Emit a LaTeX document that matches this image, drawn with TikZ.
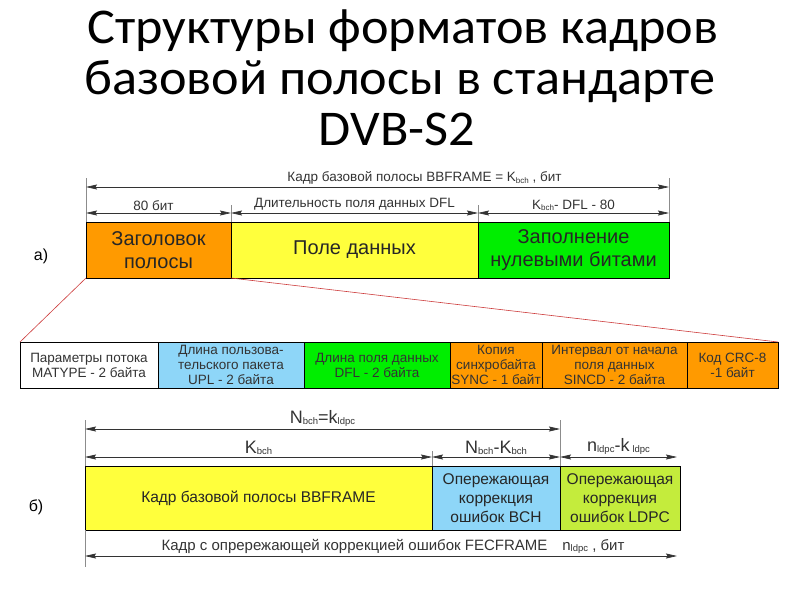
\documentclass[tikz,border=0pt]{standalone}
\usepackage{fontspec}
\setmainfont{Liberation Sans}
\newfontfamily\ttlfont{Carlito}
\usepackage{xcolor}
\usetikzlibrary{positioning,arrows.meta,calc}

\definecolor{bforange}{HTML}{FF9A00}
\definecolor{bfyellow}{HTML}{FFFF3C}
\definecolor{bfgreen}{HTML}{00EE00}
\definecolor{bfblue}{HTML}{8ED6F8}
\definecolor{bflime}{HTML}{C4EC3C}
\definecolor{bfred}{HTML}{CC3A3A}

% small lowered index, as in the drawing
\newcommand{\lowidx}[2][8]{\raisebox{-1.5pt}{\fontsize{#1}{#1}\selectfont #2}}

\begin{document}
\begin{tikzpicture}[
  x=1pt, y=-1pt, >={Stealth[length=11pt,width=5pt,inset=1.5pt]},
  ttl/.style={anchor=base,inner sep=0pt,font=\ttlfont\fontsize{50}{50}\selectfont},
  blk/.style={draw,line width=0.9pt,outer sep=0pt,inner sep=1pt,align=center,text=black!85},
  ext/.style={draw=black!45,line width=0.7pt},
  dim/.style={<->,line width=0.7pt,black!80},
  lbl/.style={above,inner sep=2pt,text=black!80}
]
\useasboundingbox (0,0) rectangle (800,600);

% title
\node[ttl] (ttl1) at (403,43) {\scalebox{1.045}[1.0]{Структуры форматов кадров}};
\node[ttl] (ttl2) at (400,94) {\scalebox{1.045}[1.0]{базовой полосы в стандарте}};
\node[ttl] (ttl3) at (397,145) {\scalebox{1.045}[1.0]{DVB-S2}};

% a) baseband frame
\node[font=\fontsize{16}{16}\selectfont] (la) at (41,256) {а)};
\node[blk,fill=bforange,minimum width=145pt,minimum height=56pt,anchor=north west,
  font=\fontsize{20}{23}\selectfont] (hdr) at (86,222) {Заголовок\\полосы};
\node[blk,fill=bfyellow,minimum width=247pt,minimum height=56pt,right=0pt of hdr,
  font=\fontsize{20}{23}\selectfont] (data) {Поле данных};
\node[blk,fill=bfgreen,minimum width=191pt,minimum height=56pt,right=0pt of data,
  font=\fontsize{20}{23}\selectfont] (pad) {Заполнение\\нулевыми битами};

\draw[ext] (hdr.north west) -- ++(0,-44);
\draw[ext] (pad.north east) -- ++(0,-44);
\draw[ext] (hdr.north east) -- ++(0,-17);
\draw[ext] (data.north east) -- ++(0,-17);

\coordinate (ta) at ([yshift=35pt]hdr.north west);
\coordinate (tb) at ([yshift=35pt]pad.north east);
\coordinate (ra) at ([yshift=9pt]hdr.north west);
\coordinate (rb) at ([yshift=9pt]hdr.north east);
\coordinate (rc) at ([yshift=9pt]data.north east);
\coordinate (rd) at ([yshift=9pt]pad.north east);
\begin{scope}[font=\fontsize{13.5}{14}\selectfont]
\draw[dim] (ta) -- node[lbl,xshift=47pt]{Кадр базовой полосы BBFRAME = K\lowidx{bch} , бит} (tb);
\draw[dim] (ra) -- node[lbl,xshift=-5pt]{80 бит} (rb);
\draw[dim] (rb) -- node[lbl]{Длительность поля данных DFL} (rc);
\draw[dim] (rc) -- node[lbl]{K\lowidx{bch}- DFL - 80} (rd);
\end{scope}

% header fields
\begin{scope}[every node/.style={blk,minimum height=46pt,line width=1pt,text=black!80,
  font=\fontsize{13.5}{15}\selectfont}]
\node[fill=white,minimum width=138pt,anchor=north west] (mat) at (20,342) {Параметры потока\\MATYPE - 2 байта};
\node[fill=bfblue,minimum width=146pt,right=0pt of mat] (upl) {Длина пользова-\\тельского пакета\\UPL - 2 байта};
\node[fill=bfgreen,minimum width=146pt,right=0pt of upl] (dfl) {Длина поля данных\\DFL - 2 байта};
\node[fill=bforange,minimum width=92pt,right=0pt of dfl] (sync) {Копия\\синхробайта\\SYNC - 1 байт};
\node[fill=bforange,minimum width=145pt,right=0pt of sync] (syncd) {Интервал от начала\\поля данных\\SINCD - 2 байта};
\node[fill=bforange,minimum width=91pt,right=0pt of syncd] (crc) {Код CRC-8\\-1 байт};
\end{scope}

\draw[bfred,line width=0.6pt] (hdr.south west) -- (mat.north west);
\draw[bfred,line width=0.6pt] (hdr.south east) -- (crc.north east);

% b) FEC frame
\node[font=\fontsize{16}{16}\selectfont] (lb) at (36,507) {б)};
\node[blk,fill=bfyellow,minimum width=347pt,minimum height=64pt,anchor=north west,
  font=\fontsize{15.5}{19}\selectfont] (bbf) at (85,466) {Кадр базовой полосы BBFRAME};
\node[blk,fill=bfblue,minimum width=128pt,minimum height=64pt,right=0pt of bbf,
  font=\fontsize{15.5}{19}\selectfont] (bch) {Опережающая\\коррекция\\ошибок BCH};
\node[blk,fill=bflime,minimum width=120pt,minimum height=64pt,right=0pt of bch,
  font=\fontsize{15.5}{19}\selectfont] (ldpc) {Опережающая\\коррекция\\ошибок LDPC};

\draw[ext] (bbf.north west) -- ++(0,-46);
\draw[ext] (bbf.south west) -- ++(0,37);
\draw[ext] (bch.north east) -- ++(0,-46);
\draw[ext] (bbf.north east) -- ++(0,-15);

\coordinate (na) at ([yshift=37pt]bbf.north west);
\coordinate (nb) at ([yshift=37pt]bch.north east);
\coordinate (ka) at ([yshift=9pt]bbf.north west);
\coordinate (kb) at ([yshift=9pt]bbf.north east);
\coordinate (kc) at ([yshift=9pt]bch.north east);
\coordinate (kd) at ([yshift=9pt,xshift=-3pt]ldpc.north east);
\coordinate (fa) at ([yshift=-26pt]bbf.south west);
\coordinate (fb) at ([yshift=-26pt,xshift=-3pt]ldpc.south east);
\begin{scope}[font=\fontsize{18}{18}\selectfont]
\draw[dim] (na) -- node[lbl]{N\lowidx[9.5]{bch}=k\lowidx[9.5]{ldpc}} (nb);
\draw[dim] (ka) -- node[lbl]{K\lowidx[9.5]{bch}} (kb);
\draw[dim] (kb) -- node[lbl]{N\lowidx[9.5]{bch}-K\lowidx[9.5]{bch}} (kc);
\draw[dim] (kc) -- node[lbl]{n\lowidx[9.5]{ldpc}-k\,\lowidx[9.5]{ldpc}} (kd);
\end{scope}
\draw[dim] (fa) -- node[lbl,xshift=12pt,font=\fontsize{15}{15}\selectfont]
  {Кадр с опрережающей коррекцией ошибок FECFRAME\quad n\lowidx[9.5]{ldpc} , бит} (fb);
\end{tikzpicture}
\end{document}
